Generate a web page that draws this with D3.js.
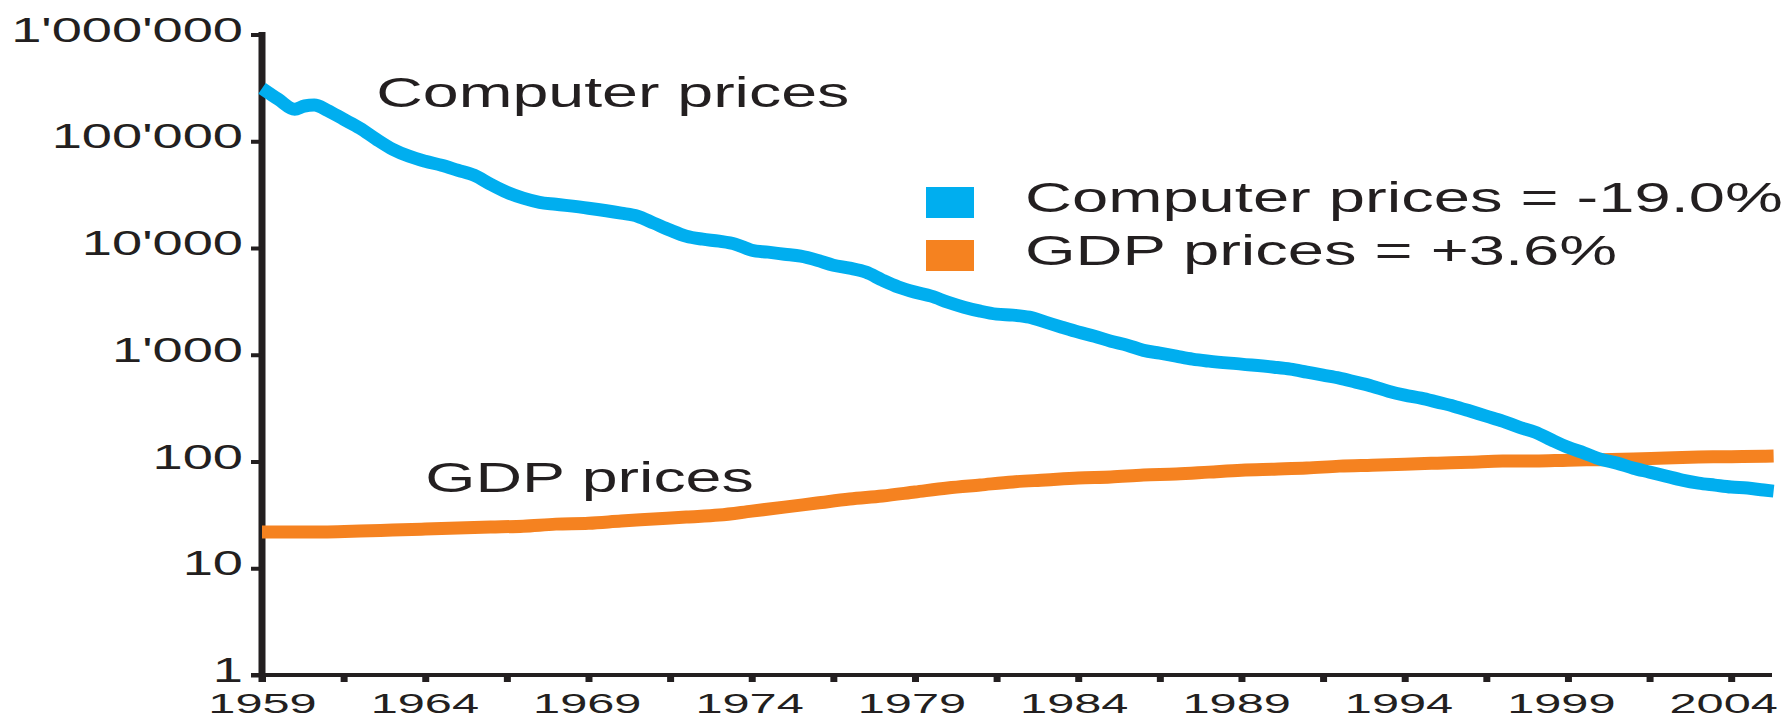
<!DOCTYPE html>
<html>
<head>
<meta charset="utf-8">
<script src="https://cdn.jsdelivr.net/npm/d3@7.9.0/dist/d3.min.js"></script>
<style>
  body { margin: 0; background: #fff; }
  svg { display: block; }
</style>
</head>
<body>
<script>
const width = 1783;
const height = 718;

// data (index, log scale)
const cpuYears = [1959, 1959.5, 1960, 1960.3, 1960.6, 1961, 1961.5, 1962, 1962.5, 1963, 1963.5,
  1964, 1964.5, 1965, 1965.5, 1966, 1966.5, 1967, 1967.5, 1968, 1969, 1970, 1970.5,
  1971, 1971.5, 1972, 1972.5, 1973, 1973.5, 1974, 1974.5, 1975, 1975.5, 1976, 1976.5,
  1977, 1977.5, 1978, 1978.5, 1979, 1979.5, 1980, 1980.5, 1981, 1981.5, 1982, 1982.5,
  1983, 1983.5, 1984, 1984.5, 1985, 1985.5, 1986, 1986.5, 1987, 1987.5, 1988, 1989,
  1990, 1990.5, 1991, 1991.5, 1992, 1992.5, 1993, 1993.5, 1994, 1994.5, 1995, 1995.5,
  1996, 1996.5, 1997, 1997.5, 1998, 1998.5, 1999, 1999.5, 2000, 2000.5, 2001, 2001.5,
  2002, 2002.5, 2003, 2003.5, 2004, 2004.5, 2005, 2005.3];
const cpuPrices = [313000, 247000, 199500, 214000, 218000, 195000, 160700, 132400, 104400, 84200, 72400,
  65000, 59600, 53500, 48000, 39600, 33300, 29300, 26800, 25700, 23600, 21200, 19850,
  17100, 14700, 12900, 12100, 11580, 10860, 9530, 9140, 8750, 8380, 7690, 6900,
  6470, 5930, 5000, 4300, 3860, 3540, 3110, 2790, 2560, 2400, 2350, 2250,
  2020, 1810, 1630, 1490, 1340, 1230, 1100, 1035, 970, 910, 871, 817,
  765, 733, 687, 644, 604, 554, 508, 456, 419, 392, 360, 330,
  297, 266, 239, 210, 188, 159, 136, 120, 105, 96.6, 86.7, 79.6,
  73.0, 67.0, 62.8, 60.1, 57.6, 56.4, 54.0, 52.8];

const gdpYears = [...d3.range(1959, 2006), 2005.3];
const gdpPrices = [21.8, 21.8, 21.9, 22.3, 22.8, 23.3, 23.8, 24.3, 24.8, 25.9,
  26.4, 27.7, 28.9, 30.2, 31.5, 34.3, 37.4, 40.8, 44.5, 47.5,
  51.8, 56.5, 60.3, 64.4, 67.1, 70.0, 71.5, 74.6, 76.2, 79.5,
  83.0, 84.8, 86.7, 90.5, 92.4, 94.4, 96.5, 98.5, 101, 101,
  103, 104, 105.5, 108, 110, 111, 112, 112.5];

const seriesNames = ["Computer prices", "GDP prices"];
const legendLabels = ["Computer prices = -19.0%", "GDP prices = +3.6%"];
const yTicks = [1, 10, 100, 1000, 10000, 100000, 1000000];
const yTickLabels = ["1", "10", "100", "1'000", "10'000", "100'000", "1'000'000"];
const xLabelYears = [1959, 1964, 1969, 1974, 1979, 1984, 1989, 1994, 1999, 2004];

const blue = "#00AEEF";
const orange = "#F58220";
const ink = "#231F20";
const font = "'Liberation Sans', Arial, Helvetica, sans-serif";

const svg = d3.select("body").append("svg")
  .attr("width", width)
  .attr("height", height)
  .attr("viewBox", `0 0 ${width} ${height}`);

const x = d3.scaleLinear().domain([1959, 2005.25]).range([262, 1772]);
const y = d3.scaleLog().domain([1, 1e6]).range([675, 34.5]);

// y axis
const gy = svg.append("g")
  .attr("transform", `translate(${x(1959)},0)`)
  .call(d3.axisLeft(y).tickValues(yTicks).tickFormat((d, i) => yTickLabels[i]).tickSize(11).tickSizeOuter(0));
gy.select(".domain").attr("d", "M0,682V32").attr("stroke", ink).attr("stroke-width", 7);
gy.selectAll(".tick line").attr("stroke", ink).attr("stroke-width", 4);
gy.selectAll(".tick text")
  .attr("x", 0).attr("dy", null)
  .attr("transform", "translate(-19,6.5) scale(1.55,1)")
  .attr("text-anchor", "end")
  .attr("fill", ink)
  .style("font-family", font)
  .style("font-size", "35px");

// x axis, ticks every 2.5 years, labels every 5 (labels drift slightly left as in the original)
const gx = svg.append("g")
  .attr("transform", `translate(0,${y(1)})`)
  .call(d3.axisBottom(x).tickValues(d3.range(1959, 2004.1, 2.5))
    .tickFormat(d => xLabelYears.includes(d) ? String(d) : "")
    .tickSize(7).tickSizeOuter(0));
gx.select(".domain").attr("d", "M251,0H1772").attr("stroke", ink).attr("stroke-width", 4);
gx.selectAll(".tick line").attr("stroke", ink).attr("stroke-width", 7);
gx.selectAll(".tick text")
  .attr("y", 0).attr("dy", null)
  .attr("transform", d => `translate(${-(d - 1959) / 45 * 8},38) scale(1.74,1)`)
  .attr("text-anchor", "middle")
  .attr("fill", ink)
  .style("font-family", font)
  .style("font-size", "28px");

// lines
const line = d3.line()
  .x(d => x(d[0]))
  .y(d => y(d[1]))
  .curve(d3.curveMonotoneX);

svg.append("path")
  .datum(d3.zip(gdpYears, gdpPrices))
  .attr("d", line)
  .attr("fill", "none")
  .attr("stroke", orange)
  .attr("stroke-width", 13);

svg.append("path")
  .datum(d3.zip(cpuYears, cpuPrices))
  .attr("d", line)
  .attr("fill", "none")
  .attr("stroke", blue)
  .attr("stroke-width", 13);

function stretchedText(tx, ty, txt, size, sx) {
  svg.append("text")
    .attr("transform", `translate(${tx},${ty}) scale(${sx},1)`)
    .attr("fill", ink)
    .style("font-family", font)
    .style("font-size", size + "px")
    .text(txt);
}

// series labels inside the plot
stretchedText(x(1962.5), y(208000), seriesNames[0], 43, 1.5);
stretchedText(x(1964), y(51.7), seriesNames[1], 43, 1.5);

// legend
const legendColors = [blue, orange];
legendLabels.forEach((lab, i) => {
  svg.append("rect")
    .attr("x", 926).attr("y", 187 + i * 53)
    .attr("width", 48).attr("height", 31)
    .attr("fill", legendColors[i]);
  stretchedText(1025, 212 + i * 53, lab, 42, 1.55);
});
</script>
</body>
</html>
